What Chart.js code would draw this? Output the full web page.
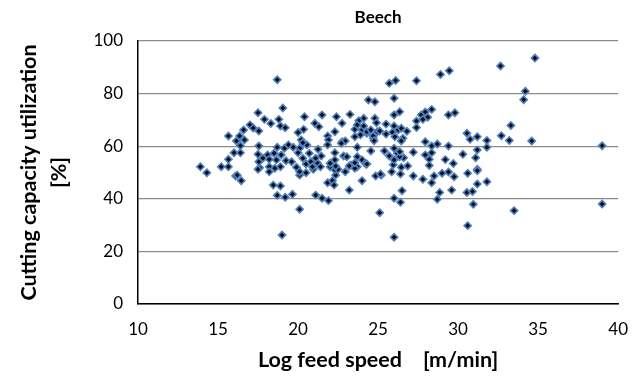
<!DOCTYPE html>
<html>
<head>
<meta charset="utf-8">
<script src="https://cdn.jsdelivr.net/npm/chart.js@4/dist/chart.umd.min.js"></script>
<style>
  html, body { margin: 0; padding: 0; background: #fff; }
  #wrap { width: 643px; height: 378px; }
</style>
</head>
<body>
<div id="wrap"><canvas id="beech-chart" width="643" height="378"></canvas></div>
<script>
// Log feed speed [m/min] per sample
const feedSpeed = [
  13.9, 14.3, 15.2, 15.65, 15.65, 15.65, 16.0, 16.4, 16.1, 16.2,
  16.45, 16.35, 16.15, 16.65, 16.4, 16.6, 17.0, 17.2, 17.55, 17.5,
  17.9, 18.3, 17.55, 17.5, 17.7, 17.8, 17.6, 17.5, 17.55, 18.7,
  19.05, 18.8, 18.9, 19.2, 18.1, 18.5, 18.65, 18.95, 19.25, 18.7,
  19.15, 19.4, 19.7, 18.9, 18.2, 18.2, 18.55, 18.45, 18.9, 18.7,
  19.2, 19.65, 19.0, 19.6, 19.9, 20.1, 20.1, 20.5, 20.5, 20.95,
  21.2, 20.1, 20.0, 20.35, 20.4, 20.2, 20.55, 20.1, 20.0, 20.3,
  20.7, 20.8, 20.9, 18.2, 21.5, 21.05, 21.3, 22.4, 23.25, 22.75,
  24.4, 24.8, 24.1, 23.8, 24.8, 21.85, 22.3, 21.9, 22.75, 22.95,
  23.55, 23.7, 24.0, 23.9, 24.3, 23.55, 24.7, 24.55, 21.25, 21.45,
  21.1, 21.85, 22.3, 22.3, 22.85, 23.05, 23.7, 23.7, 24.0, 23.7,
  24.25, 23.3, 22.0, 21.4, 21.85, 22.15, 22.25, 21.1, 21.5, 21.9,
  22.35, 22.3, 22.5, 22.0, 22.95, 23.2, 23.55, 24.0, 23.2, 24.2,
  24.85, 24.1, 24.3, 24.95, 22.7, 20.3, 23.55, 22.35, 24.3, 25.2,
  25.85, 25.95, 26.45, 26.4, 26.0, 26.35, 26.0, 24.9, 25.7, 26.1,
  26.6, 26.85, 25.4, 26.0, 26.2, 25.7, 26.0, 26.35, 24.55, 24.7,
  25.1, 25.5, 25.5, 25.9, 26.0, 26.25, 26.45, 26.8, 26.55, 26.05,
  24.75, 26.5, 26.0, 26.4, 25.1, 26.0, 26.45, 26.35, 27.4, 28.9,
  29.45, 27.4, 27.7, 27.95, 28.35, 28.1, 27.8, 27.4, 29.4, 29.8,
  30.55, 30.75, 31.2, 31.8, 31.8, 31.2, 30.3, 31.1, 29.2, 29.7,
  31.2, 29.4, 28.7, 28.35, 27.95, 28.35, 27.95, 28.2, 28.2, 27.2,
  27.2, 27.8, 28.5, 28.35, 29.0, 29.4, 29.75, 30.6, 31.2, 31.2,
  31.8, 28.85, 28.7, 29.6, 30.55, 30.9, 30.95, 30.6, 32.65, 34.8,
  34.2, 34.1, 32.7, 33.3, 33.2, 34.6, 39.0, 33.5, 39.0, 25.15
];

// Cutting capacity utilization [%] per sample (same order)
const utilization = [
  52.2, 49.9, 52.2, 52.2, 55.0, 63.9, 57.5, 57.5, 48.7, 49.0,
  46.9, 63.9, 62.0, 62.4, 60.2, 66.2, 68.1, 66.9, 65.8, 72.7,
  70.2, 68.6, 60.1, 56.9, 55.0, 55.4, 51.8, 51.2, 54.1, 85.3,
  74.5, 70.2, 67.7, 67.0, 56.7, 57.3, 54.8, 56.7, 54.5, 59.6,
  59.2, 60.5, 59.6, 52.2, 52.2, 50.3, 51.6, 45.2, 44.9, 41.3,
  40.6, 41.7, 26.2, 54.1, 52.0, 49.0, 50.3, 49.9, 53.2, 51.2,
  53.7, 36.0, 65.2, 66.4, 71.2, 62.4, 60.5, 59.2, 57.5, 55.4,
  57.3, 54.1, 52.2, 55.0, 71.9, 68.7, 67.4, 71.2, 72.1, 68.7,
  77.6, 76.9, 70.6, 69.7, 70.6, 63.9, 65.5, 62.4, 61.7, 62.0,
  66.4, 68.1, 66.2, 64.3, 64.9, 63.6, 63.0, 58.2, 58.8, 56.3,
  55.4, 60.5, 57.5, 54.8, 56.3, 56.0, 59.6, 56.0, 54.8, 52.2,
  53.1, 52.9, 52.2, 52.2, 46.1, 46.9, 45.2, 41.4, 40.2, 39.3,
  49.0, 51.0, 51.2, 53.5, 50.3, 52.5, 51.6, 46.9, 43.3, 53.5,
  48.7, 67.7, 65.5, 65.5, 61.1, 61.3, 53.7, 52.4, 53.2, 49.0,
  50.3, 52.9, 52.0, 49.4, 78.2, 73.1, 71.9, 68.9, 83.9, 85.0,
  55.6, 52.5, 58.2, 59.2, 57.3, 56.3, 54.8, 56.0, 66.2, 63.9,
  65.8, 68.4, 64.6, 65.3, 67.7, 66.2, 66.8, 65.7, 63.0, 63.6,
  62.1, 43.1, 40.2, 38.7, 34.7, 25.4, 62.0, 57.9, 84.9, 87.3,
  88.7, 69.6, 71.9, 73.0, 74.0, 71.0, 70.2, 67.1, 71.9, 72.7,
  64.9, 62.6, 63.6, 62.2, 59.6, 58.6, 56.9, 55.6, 54.9, 53.4,
  51.2, 60.1, 60.8, 60.1, 61.7, 57.5, 56.7, 55.0, 52.7, 57.7,
  48.7, 47.4, 48.7, 46.1, 49.7, 50.2, 48.4, 49.7, 50.7, 45.6,
  46.5, 42.4, 39.8, 43.3, 42.4, 42.8, 37.9, 29.8, 90.5, 93.5,
  80.9, 77.7, 64.0, 67.9, 62.2, 62.0, 60.2, 35.5, 38.0, 49.4
];

const xTicks = [10, 15, 20, 25, 30, 35, 40];
const yTicks = [0, 20, 40, 60, 80, 100];

const FONT = 'Lato, "Open Sans", sans-serif';

function renderChart() {
  const points = feedSpeed.map((x, i) => ({ x: x, y: utilization[i] }));
  const ctx = document.getElementById('beech-chart').getContext('2d');

  new Chart(ctx, {
    type: 'scatter',
    data: {
      datasets: [{
        label: 'Beech',
        data: points,
        pointStyle: 'rectRot',
        pointRadius: 3.6,
        pointBackgroundColor: '#0d0d1a',
        pointBorderColor: '#4f81bd',
        pointBorderWidth: 1.6
      }]
    },
    options: {
      responsive: false,
      animation: false,
      layout: { padding: { top: 0, right: 18, left: 14, bottom: 5 } },
      plugins: {
        legend: { display: false },
        tooltip: { enabled: false },
        title: {
          display: true,
          fullSize: false,
          text: 'Beech',
          color: '#000',
          font: { family: FONT, size: 17, weight: 'bold', lineHeight: 1.2 },
          padding: { top: 7, bottom: 13.6 }
        }
      },
      scales: {
        x: {
          type: 'linear',
          min: xTicks[0],
          max: xTicks[xTicks.length - 1],
          afterBuildTicks: scale => { scale.ticks = xTicks.map(v => ({ value: v })); },
          afterFit: scale => { scale.height = 378 - 304 - 5; },
          grid: { display: false, drawTicks: false },
          border: { display: true, color: '#000', width: 1.5 },
          ticks: { color: '#000', padding: 15, maxRotation: 0, font: { family: FONT, size: 17 } },
          title: {
            display: true,
            text: 'Log feed speed    [m/min]',
            color: '#000',
            font: { family: FONT, size: 21.5, weight: 'bold' },
            padding: { top: 3, bottom: 0 }
          }
        },
        y: {
          type: 'linear',
          min: yTicks[0],
          max: yTicks[yTicks.length - 1],
          afterBuildTicks: scale => { scale.ticks = yTicks.map(v => ({ value: v })); },
          afterFit: scale => { scale.width = 138 - 14; },
          grid: { color: '#8c8c8c', lineWidth: 1.3, drawTicks: false },
          border: { display: true, color: '#000', width: 1.5 },
          ticks: { color: '#000', padding: 15, font: { family: FONT, size: 17 } },
          title: {
            display: true,
            text: ['Cutting capacity utilization', '[%]'],
            color: '#000',
            font: { family: FONT, size: 21.5, weight: 'bold', lineHeight: 1.4 },
            padding: { top: 0, bottom: 0 }
          }
        }
      }
    }
  });
}

document.addEventListener('DOMContentLoaded', renderChart);
</script>
</body>
</html>
